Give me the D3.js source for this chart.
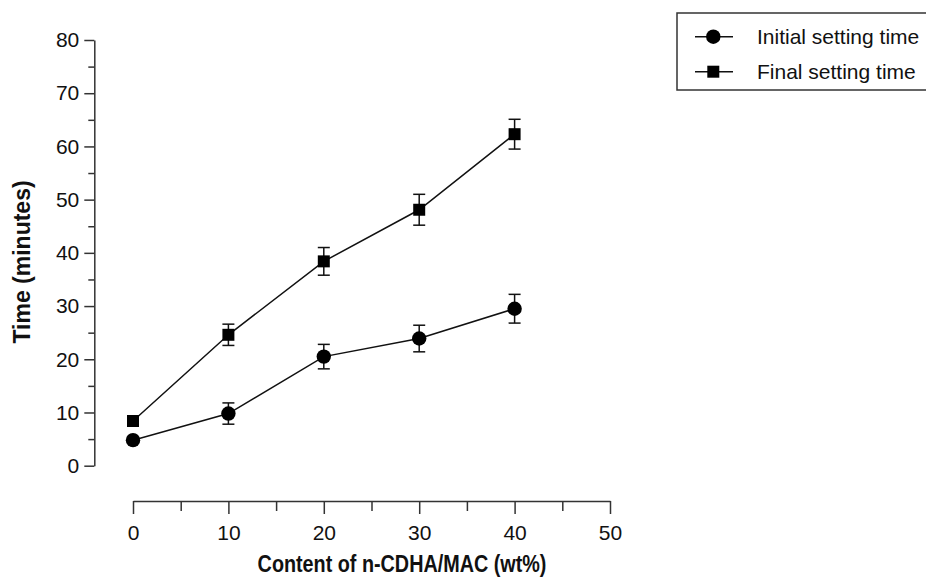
<!DOCTYPE html>
<html>
<head>
<meta charset="utf-8">
<script src="https://cdn.jsdelivr.net/npm/d3@7"></script>
<style>
  body { margin: 0; background: #fff; }
  svg { font-family: "Liberation Sans", Arial, sans-serif; }
</style>
</head>
<body>
<svg class="chart" width="926" height="579"></svg>
<script>
// values
let contents = [0, 10, 20, 30, 40];
let initialTime = [4.8, 9.8, 20.5, 23.9, 29.5];
let initialErr = [0.4, 2.0, 2.3, 2.5, 2.7];
let finalTime = [8.4, 24.6, 38.4, 48.1, 62.3];
let finalErr = [0.4, 2.0, 2.6, 2.9, 2.8];
let seriesNames = ['Initial setting time', 'Final setting time'];
let xTicks = [0, 10, 20, 30, 40, 50];
let yTicks = [0, 10, 20, 30, 40, 50, 60, 70, 80];

let svg = d3.select('.chart');

// scales - the x axis starts right of the y axis, like the original plot
let x = d3.scaleLinear().domain([0, 50]).range([133, 610]);
let y = d3.scaleLinear().domain([0, 80]).range([465.7, 40]);
let yAxisX = 94.3;
let xAxisY = 501;

// y axis, major and minor ticks on the left
let yMinor = d3.range(5, 80, 10);
svg.append('g').attr('transform', `translate(${yAxisX},0)`)
  .call(d3.axisLeft(y).tickValues(yMinor).tickSize(6).tickFormat(''))
  .call(g => g.select('.domain').remove())
  .selectAll('line').attr('stroke', '#333').attr('stroke-width', 1.5);
let yAx = svg.append('g').attr('transform', `translate(${yAxisX},0)`)
  .call(d3.axisLeft(y).tickValues(yTicks).tickSize(10).tickSizeOuter(0).tickPadding(5));
yAx.select('.domain').attr('stroke', '#333').attr('stroke-width', 1.5);
yAx.selectAll('line').attr('stroke', '#333').attr('stroke-width', 1.5);
yAx.selectAll('text').attr('font-size', 21).attr('font-family', '"Liberation Sans", Arial, sans-serif').attr('fill', '#111');

// x axis, ticks hanging below the line
let xMinor = d3.range(5, 50, 10);
svg.append('g').attr('transform', `translate(0,${xAxisY})`)
  .call(d3.axisBottom(x).tickValues(xMinor).tickSize(10).tickFormat(''))
  .call(g => g.select('.domain').remove())
  .selectAll('line').attr('stroke', '#333').attr('stroke-width', 1.5);
let xAx = svg.append('g').attr('transform', `translate(0,${xAxisY})`)
  .call(d3.axisBottom(x).tickValues(xTicks).tickSize(13).tickSizeOuter(0).tickPadding(11));
xAx.select('.domain').attr('stroke', '#333').attr('stroke-width', 1.5);
xAx.selectAll('line').attr('stroke', '#333').attr('stroke-width', 1.5);
xAx.selectAll('text').attr('font-size', 21).attr('font-family', '"Liberation Sans", Arial, sans-serif').attr('fill', '#111');

// axis titles (x title is a bit narrow/tall in the original)
svg.append('text').attr('transform', 'translate(402,572) scale(0.86,1)').attr('text-anchor', 'middle')
  .attr('font-size', 23).attr('font-weight', 'bold').attr('fill', '#111')
  .text('Content of n-CDHA/MAC (wt%)');
svg.append('text').attr('transform', 'translate(30,262) rotate(-90)').attr('text-anchor', 'middle')
  .attr('font-size', 23).attr('font-weight', 'bold').attr('fill', '#111')
  .text('Time (minutes)');

// one series = line + error bars + markers
let drawSeries = function(vals, errs, shape) {
  let pts = contents.map((c, i) => ({ c: c, v: vals[i], e: errs[i] }));
  let line = d3.line().x(d => x(d.c)).y(d => y(d.v));
  svg.append('path').datum(pts).attr('d', line)
    .attr('fill', 'none').attr('stroke', '#111').attr('stroke-width', 1.5);

  let eb = svg.append('g').selectAll('g').data(pts).enter().append('g')
    .attr('stroke', '#111').attr('stroke-width', 1.5);
  eb.append('line').attr('x1', d => x(d.c)).attr('x2', d => x(d.c))
    .attr('y1', d => y(d.v - d.e)).attr('y2', d => y(d.v + d.e));
  eb.append('line').attr('x1', d => x(d.c) - 6).attr('x2', d => x(d.c) + 6)
    .attr('y1', d => y(d.v + d.e)).attr('y2', d => y(d.v + d.e));
  eb.append('line').attr('x1', d => x(d.c) - 6).attr('x2', d => x(d.c) + 6)
    .attr('y1', d => y(d.v - d.e)).attr('y2', d => y(d.v - d.e));

  let sym = shape === 'circle' ? d3.symbolCircle : d3.symbolSquare;
  let size = shape === 'circle' ? Math.PI * 7.2 * 7.2 : 12 * 12;
  svg.append('g').selectAll('path').data(pts).enter().append('path')
    .attr('d', d3.symbol().type(sym).size(size))
    .attr('transform', d => `translate(${x(d.c)},${y(d.v)})`)
    .attr('fill', '#000');
};

drawSeries(initialTime, initialErr, 'circle');
drawSeries(finalTime, finalErr, 'square');

// legend box, runs off the right edge as in the original
let legend = svg.append('g');
legend.append('rect').attr('x', 677).attr('y', 13).attr('width', 260).attr('height', 77)
  .attr('fill', '#fff').attr('stroke', '#333').attr('stroke-width', 1.5);
let rows = legend.selectAll('g.row').data(seriesNames).enter().append('g')
  .attr('class', 'row')
  .attr('transform', (d, i) => `translate(0,${36.7 + i * 35})`);
rows.append('line').attr('x1', 695).attr('x2', 733).attr('stroke', '#111').attr('stroke-width', 1.5);
rows.append('path')
  .attr('d', (d, i) => d3.symbol().type(i === 0 ? d3.symbolCircle : d3.symbolSquare)
    .size(i === 0 ? Math.PI * 7.2 * 7.2 : 12 * 12)())
  .attr('transform', 'translate(713.3,0)').attr('fill', '#000');
rows.append('text').attr('x', 757).attr('dy', '0.35em')
  .attr('font-size', 21).attr('fill', '#111').text(d => d);
</script>
</body>
</html>
